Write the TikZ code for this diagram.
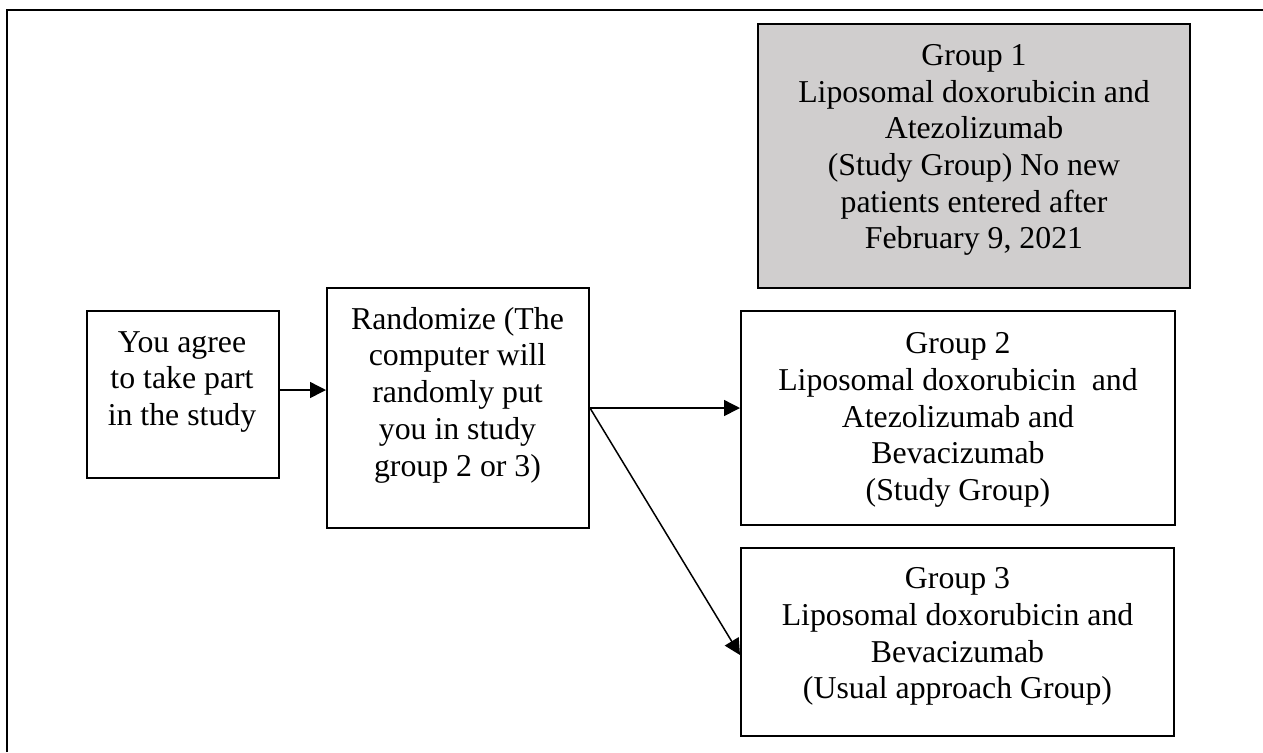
\documentclass[tikz,border=0pt]{standalone}
\usepackage{fontspec}
\setmainfont{Liberation Serif}
\usetikzlibrary{arrows.meta,calc}
\definecolor{boxgray}{HTML}{D0CECE}
\tikzset{
  box/.style={draw=black, line width=1pt, inner sep=0pt, rectangle},
  txt/.style={align=center, inner sep=0pt, font=\fontsize{15.9pt}{18.35pt}\selectfont},
  arr/.style={line width=0.75pt, -{Triangle[length=8pt,width=8pt]}},
}
\begin{document}
\begin{tikzpicture}[x=0.5pt,y=-0.5pt]
\useasboundingbox (0,0) rectangle (1263,752);
% frame
\draw[line width=1pt] (7,752) -- (7,10) -- (1263,10);
% boxes
\node[box, fill=boxgray, minimum width=216pt, minimum height=132pt] (g1) at (974,156) {};
\node[box, minimum width=96pt, minimum height=83.5pt] (ya) at (183,394.5) {};
\node[box, minimum width=131pt, minimum height=120pt] (rnd) at (458,408) {};
\node[box, minimum width=217pt, minimum height=107pt] (g2) at (958,418) {};
\node[box, minimum width=216.5pt, minimum height=94pt] (g3) at (957.5,642) {};
% texts
\node[txt] (g1t) at (974,150) {Group 1\\Liposomal doxorubicin and\\Atezolizumab\\(Study Group) No new\\patients entered after\\February 9, 2021};
\node[txt] (yat) at (182,382) {You agree\\to take part\\in the study};
\node[txt] (rndt) at (457.5,395) {Randomize (The\\computer will\\randomly put\\you in study\\group 2 or 3)};
\node[txt] (g2t) at (958,420) {Group 2\\Liposomal doxorubicin\ \ and\\Atezolizumab and\\Bevacizumab\\(Study Group)};
\node[txt] (g3t) at (957.5,636.5) {Group 3\\Liposomal doxorubicin and\\Bevacizumab\\(Usual approach Group)};
% connectors
\draw[arr] ([yshift=2.25pt]ya.east) -- ([yshift=2.25pt]ya.east -| rnd.west);
\draw[arr] (rnd.east) -- (rnd.east -| g2.west);
\draw[arr] (rnd.east) -- ([yshift=-6.5pt]g3.west);
\end{tikzpicture}
\end{document}
